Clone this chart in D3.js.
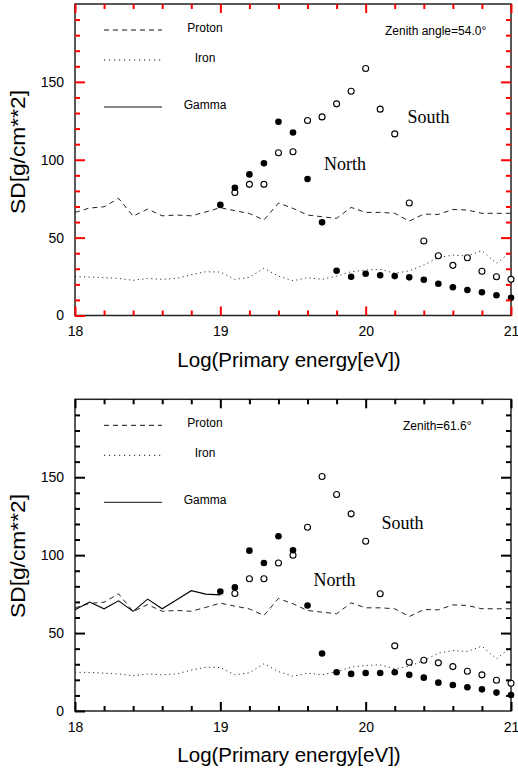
<!DOCTYPE html>
<html><head><meta charset="utf-8">
<script src="https://cdn.jsdelivr.net/npm/d3@7"></script>
<style>
html,body{margin:0;padding:0;background:#fff;}
svg{display:block;}
text{font-family:"Liberation Sans",Arial,sans-serif;fill:#000;}
</style></head>
<body>
<svg id="chart" width="518" height="774"></svg>
<script>
// ---- data ----
const lineEnergy = [18.0,18.1,18.2,18.3,18.4,18.5,18.6,18.7,18.8,18.9,19.0,19.1,19.2,19.3,19.4,19.5,19.6,19.7,19.8,19.9,20.0,20.1,20.2,20.3,20.4,20.5,20.6,20.7,20.8,20.9,21.0];
const protonSD = [66.2,69,69.8,75.2,63.8,68.3,64,64.5,64,66.5,69.2,67.3,65.5,61.3,72.2,68.8,64.5,63.4,62.4,69.4,66.2,66.2,65.6,60.6,65.1,64.9,68.1,67.7,65.6,65.6,65.6];
const ironSD = [24.9,24.7,24.3,23.8,22.6,23.8,23.2,23.8,26.2,28.1,27.9,23.2,24.5,30.3,25.3,22.3,24.3,23.2,25.3,28.1,29.2,29.6,27.1,28.7,32.4,37.1,38.8,38.2,41.6,33.5,40.9];
const gammaEnergy = [18.0,18.1,18.2,18.3,18.4,18.5,18.6,18.7,18.8,18.9,19.0];
const gammaSD = [65,69.9,65.6,70.7,63.9,71.8,65.6,71.4,77.2,75,74.5];

const northEnergy = [19.0,19.1,19.2,19.3,19.4,19.5,19.6,19.7,19.8,19.9,20.0,20.1,20.2,20.3,20.4,20.5,20.6,20.7,20.8,20.9,21.0];
const southEnergy = [19.1,19.2,19.3,19.4,19.5,19.6,19.7,19.8,19.9,20.0,20.1,20.2,20.3,20.4,20.5,20.6,20.7,20.8,20.9,21.0];

const north54 = [71,82,90.6,97.8,124.4,117.5,87.6,59.8,28.7,24.9,26.8,25.8,25.3,24.5,23,20.4,18.1,16.4,14.9,13,11.4];
const south54 = [79,84.2,84.2,104.5,105.1,125.2,127.5,135.9,144,158.6,132.5,116.6,72.2,47.8,38.4,32.2,37.1,28.4,24.9,23.2];
const north61 = [76.7,79.3,102.9,95,112.1,103.1,67.7,36.9,24.9,23.8,24.4,24.4,24.9,23.2,21.4,18.2,16.7,15.2,13.9,11.8,10.3];
const south61 = [75.4,84.9,84.9,95,99.9,117.9,150.5,138.9,126.5,108.9,75.2,41.8,31.3,32.6,30.9,28.5,25.5,23.2,19.7,17.8];

const xMajorTicks = [18,19,20,21];
const yMajorTicks = [0,50,100,150];
const legendLabels = ["Proton","Iron","Gamma"];
const panelTitles = ["Zenith angle=54.0\u00B0","Zenith=61.6\u00B0"];
const xTitle = "Log(Primary energy[eV])";
const yTitle = "SD[g/cm**2]";

// ---- layout ----
const svg = d3.select("#chart");
const left = 75, right = 511;
const panels = [
  {top:4, bottom:315.5, title:panelTitles[0], titleX:385, north:north54, south:south54, gamma:false,
   southLab:[428.5,123], northLab:[345,170], yTitleY:152, tickColor:"red"},
  {top:399.3, bottom:711, title:panelTitles[1], titleX:403, north:north61, south:south61, gamma:true,
   southLab:[402.5,529], northLab:[334.5,586], yTitleY:556, tickColor:"#000"}
];
const x = d3.scaleLinear().domain([18,21]).range([left,right]);
const minorX = d3.range(18,21.0001,0.2).map(v=>+v.toFixed(1)).filter(v=>!xMajorTicks.includes(v));
const minorY = d3.range(0,201,10).filter(v=>v%50!==0);

panels.forEach((p)=>{
  const y = d3.scaleLinear().domain([0,200]).range([p.bottom,p.top]);
  const g = svg.append("g");

  g.append("rect").attr("x",left).attr("y",p.top).attr("width",right-left).attr("height",p.bottom-p.top)
    .attr("fill","none").attr("stroke","#222").attr("stroke-width",1.5);

  const line = d3.line().x(d=>x(d[0])).y(d=>y(d[1]));
  g.append("path").datum(d3.zip(lineEnergy,protonSD)).attr("d",line)
    .attr("fill","none").attr("stroke","#222").attr("stroke-width",1).attr("stroke-dasharray","5,4");
  g.append("path").datum(d3.zip(lineEnergy,ironSD)).attr("d",line)
    .attr("fill","none").attr("stroke","#333").attr("stroke-width",1).attr("stroke-dasharray","1.2,3.3");
  if(p.gamma){
    g.append("path").datum(d3.zip(gammaEnergy,gammaSD)).attr("d",line)
      .attr("fill","none").attr("stroke","#000").attr("stroke-width",1.1);
  }

  g.selectAll("circle.south").data(d3.zip(southEnergy,p.south)).join("circle").attr("class","south")
    .attr("cx",d=>x(d[0])).attr("cy",d=>y(d[1])).attr("r",3)
    .attr("fill","#fff").attr("stroke","#000").attr("stroke-width",1.1);
  g.selectAll("circle.north").data(d3.zip(northEnergy,p.north)).join("circle").attr("class","north")
    .attr("cx",d=>x(d[0])).attr("cy",d=>y(d[1])).attr("r",3.3).attr("fill","#000");

  const styleAxis = (sel)=>{
    sel.select(".domain").attr("display","none");
    sel.selectAll(".tick line").style("stroke",p.tickColor).style("stroke-width","2px");
    sel.selectAll(".tick text").style("font-size","14px").style("font-family","Liberation Sans, Arial, sans-serif").style("fill","#000");
  };
  g.append("g").attr("transform",`translate(0,${p.bottom})`)
    .call(d3.axisBottom(x).tickValues(xMajorTicks).tickSizeInner(-9).tickSizeOuter(0).tickPadding(11).tickFormat(d3.format("d"))).call(styleAxis);
  g.append("g").attr("transform",`translate(0,${p.bottom})`)
    .call(d3.axisBottom(x).tickValues(minorX).tickSizeInner(-5).tickSizeOuter(0).tickFormat("")).call(styleAxis);
  g.append("g").attr("transform",`translate(0,${p.top})`)
    .call(d3.axisTop(x).tickValues(xMajorTicks).tickSizeInner(-9).tickSizeOuter(0).tickFormat("")).call(styleAxis);
  g.append("g").attr("transform",`translate(0,${p.top})`)
    .call(d3.axisTop(x).tickValues(minorX).tickSizeInner(-5).tickSizeOuter(0).tickFormat("")).call(styleAxis);
  g.append("g").attr("transform",`translate(${left},0)`)
    .call(d3.axisLeft(y).tickValues(yMajorTicks).tickSizeInner(-10).tickSizeOuter(0).tickPadding(11).tickFormat(d3.format("d"))).call(styleAxis);
  g.append("g").attr("transform",`translate(${left},0)`)
    .call(d3.axisLeft(y).tickValues(minorY).tickSizeInner(-5).tickSizeOuter(0).tickFormat("")).call(styleAxis);
  g.append("g").attr("transform",`translate(${right},0)`)
    .call(d3.axisRight(y).tickValues([50,100,150]).tickSizeInner(-10).tickSizeOuter(0).tickFormat("")).call(styleAxis);
  g.append("g").attr("transform",`translate(${right},0)`)
    .call(d3.axisRight(y).tickValues(minorY).tickSizeInner(-5).tickSizeOuter(0).tickFormat("")).call(styleAxis);

  const legY = [26,56,103];
  const dashes = ["5,4","1.2,3.8",null];
  legendLabels.forEach((lab,i)=>{
    const ly = p.top + legY[i];
    const ln = g.append("line").attr("x1",104).attr("x2",162).attr("y1",ly).attr("y2",ly)
      .attr("stroke","#111").attr("stroke-width",1);
    if(dashes[i]) ln.attr("stroke-dasharray",dashes[i]);
    g.append("text").attr("x",205).attr("y",ly+2).attr("text-anchor","middle").style("font-size","12px").text(lab);
  });

  g.append("text").attr("x",p.titleX).attr("y",p.top+31).style("font-size","12px").text(p.title);

  g.append("text").attr("x",p.southLab[0]).attr("y",p.southLab[1]).attr("text-anchor","middle")
    .style("font-family","Liberation Serif, Times New Roman, serif").style("font-size","18px").text("South");
  g.append("text").attr("x",p.northLab[0]).attr("y",p.northLab[1]).attr("text-anchor","middle")
    .style("font-family","Liberation Serif, Times New Roman, serif").style("font-size","18px").text("North");

  g.append("text").attr("x",(left+right)/2 - 4).attr("y",p.bottom+51).attr("text-anchor","middle")
    .style("font-size","20.5px").text(xTitle);
  g.append("text").attr("transform",`translate(25,${p.yTitleY}) rotate(-90)`).attr("text-anchor","middle")
    .attr("textLength",124).attr("lengthAdjust","spacingAndGlyphs")
    .style("font-size","21px").text(yTitle);
});
</script>
</body></html>
